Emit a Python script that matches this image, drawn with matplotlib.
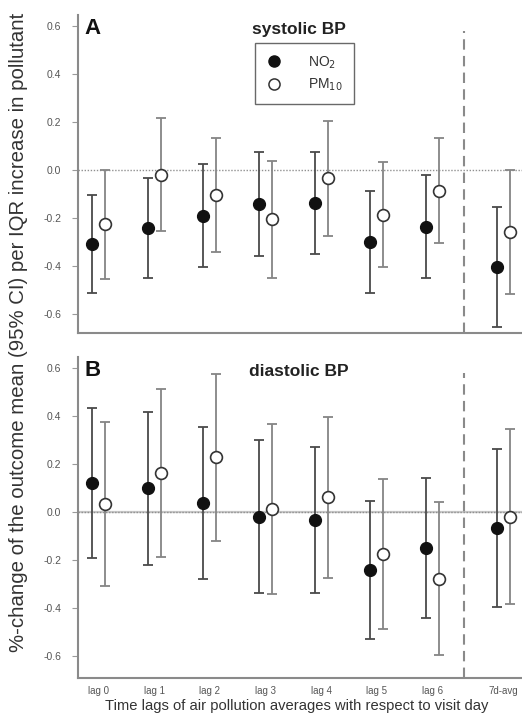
import numpy as np
import matplotlib
matplotlib.use("Agg")
import matplotlib.pyplot as plt
from matplotlib.lines import Line2D

plt.rcParams['font.family'] = ['Liberation Sans', 'DejaVu Sans']
plt.rcParams['axes.unicode_minus'] = False

categories = ["lag 0", "lag 1", "lag 2", "lag 3", "lag 4", "lag 5", "lag 6", "7d-avg"]
yticks = [0.6, 0.4, 0.2, 0.0, -0.2, -0.4, -0.6]

# Panel A: systolic BP
sys_no2 = [-0.308, -0.243, -0.192, -0.140, -0.139, -0.301, -0.236, -0.406]
sys_no2_lo = [-0.514, -0.451, -0.403, -0.358, -0.351, -0.514, -0.451, -0.653]
sys_no2_hi = [-0.103, -0.035, 0.024, 0.074, 0.074, -0.088, -0.021, -0.156]
sys_pm = [-0.225, -0.021, -0.104, -0.205, -0.035, -0.188, -0.086, -0.260]
sys_pm_lo = [-0.454, -0.253, -0.340, -0.451, -0.274, -0.406, -0.303, -0.518]
sys_pm_hi = [0.000, 0.215, 0.132, 0.039, 0.204, 0.032, 0.135, 0.000]

# Panel B: diastolic BP
dia_no2 = [0.122, 0.099, 0.036, -0.019, -0.033, -0.242, -0.151, -0.065]
dia_no2_lo = [-0.190, -0.221, -0.281, -0.336, -0.336, -0.531, -0.443, -0.397]
dia_no2_hi = [0.435, 0.418, 0.353, 0.300, 0.272, 0.047, 0.143, 0.263]
dia_pm = [0.033, 0.164, 0.230, 0.011, 0.064, -0.176, -0.279, -0.019]
dia_pm_lo = [-0.308, -0.186, -0.121, -0.342, -0.276, -0.489, -0.596, -0.385]
dia_pm_hi = [0.376, 0.513, 0.575, 0.365, 0.394, 0.136, 0.040, 0.346]

W, H = 522, 715
fig = plt.figure(figsize=(W / 100, H / 100), dpi=100)

xpos = np.append(np.arange(7), 7.27)
off = 0.118
sep_x = 6.566
xlim = (-0.368, 7.607)

def panel(ax, no2, no2_lo, no2_hi, pm, pm_lo, pm_hi, ylim, title, letter, show_x, solid_zero):
    no2 = np.array(no2); pm = np.array(pm)
    if solid_zero:
        ax.axhline(0, color='#c8c8c8', lw=1.6, zorder=1)
    ax.axhline(0, color='#909090', lw=1.0, ls=(0, (1, 1.2)), zorder=1.5)
    ax.vlines(sep_x, ylim[0], 0.58, colors='#8a8a8a', lw=1.5, linestyles=(0, (5, 3)), zorder=1)
    ax.errorbar(xpos - off, no2, yerr=[no2 - np.array(no2_lo), np.array(no2_hi) - no2],
                fmt='none', ecolor='#4a4a4a', elinewidth=1.3, capsize=3.6, capthick=1.3, zorder=2)
    ax.errorbar(xpos + off, pm, yerr=[pm - np.array(pm_lo), np.array(pm_hi) - pm],
                fmt='none', ecolor='#858585', elinewidth=1.3, capsize=3.6, capthick=1.3, zorder=2)
    ax.plot(xpos - off, no2, 'o', ms=8.5, mfc='#111111', mec='#111111', zorder=3)
    ax.plot(xpos + off, pm, 'o', ms=8.5, mfc='white', mec='#333333', mew=1.2, zorder=3)
    ax.set_xlim(*xlim)
    ax.set_ylim(*ylim)
    ax.set_yticks(yticks)
    ax.set_yticklabels([f"{v:.1f}" for v in yticks])
    ax.tick_params(axis='y', direction='out', length=4, width=0.8, colors='#9a9a9a',
                   labelcolor='#555555', labelsize=7.5, pad=8)
    for s in ['top', 'right']:
        ax.spines[s].set_visible(False)
    for s in ['left', 'bottom']:
        ax.spines[s].set_color('#8a8a8a')
        ax.spines[s].set_linewidth(1.5)
    if show_x:
        ax.set_xticks(xpos)
        ax.set_xticklabels(categories)
        ax.tick_params(axis='x', length=0, labelsize=7, labelcolor='#555555', pad=6)
    else:
        ax.set_xticks([])
    ax.text(0.5 * (xlim[0] + xlim[1]) - 0.02, 0.585, title, fontsize=12.5, fontweight='bold',
            color='#222222', ha='center', va='center')
    ax.text(-0.26, 0.59, letter, fontsize=16, fontweight='bold', color='#111111',
            ha='left', va='center')

axA = fig.add_axes([78 / W, 1 - 333 / H, 1 - 78 / W, (333 - 15) / H])
panel(axA, sys_no2, sys_no2_lo, sys_no2_hi, sys_pm, sys_pm_lo, sys_pm_hi,
      (-0.679, 0.646), "systolic BP", "A", False, False)

axB = fig.add_axes([78 / W, 1 - 678 / H, 1 - 78 / W, (678 - 357) / H])
panel(axB, dia_no2, dia_no2_lo, dia_no2_hi, dia_pm, dia_pm_lo, dia_pm_hi,
      (-0.692, 0.646), "diastolic BP", "B", True, True)

handles = [Line2D([], [], ls='none', marker='o', ms=8, mfc='#111111', mec='#111111'),
           Line2D([], [], ls='none', marker='o', ms=8, mfc='white', mec='#333333', mew=1.1)]
leg = axA.legend(handles, ["NO$_2$", "PM$_{10}$"], loc='upper left',
                 bbox_to_anchor=((255 - 78) / (W - 78), 1 - (43 - 15) / (333 - 15)),
                 fontsize=10, frameon=True, fancybox=False, borderpad=0.8,
                 handletextpad=1.8, labelspacing=0.45, borderaxespad=0, handlelength=1.2)
leg.get_frame().set_edgecolor('#444444')
leg.get_frame().set_linewidth(1.0)
for t in leg.get_texts():
    t.set_color('#333333')

fig.text(19 / W, 0.5 * (1 - 10 / H + 1 - 655 / H),
         "%-change of the outcome mean (95% CI) per IQR increase in pollutant",
         rotation=90, ha='center', va='center', fontsize=14.7, color='#333333')
fig.text(297 / W, 1 - 706 / H, "Time lags of air pollution averages with respect to visit day",
         ha='center', va='center', fontsize=10.6, color='#333333')

fig.savefig("out.png", dpi=100)
